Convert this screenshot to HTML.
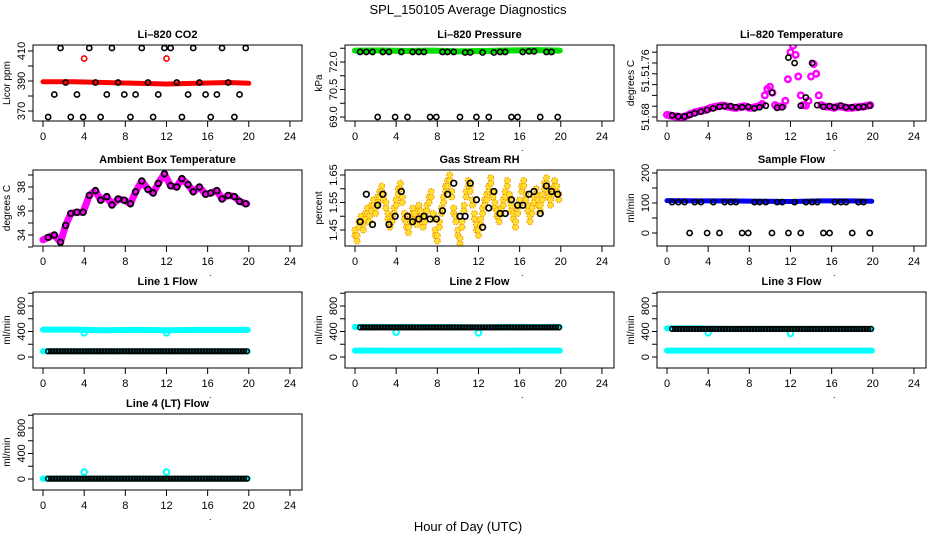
<!DOCTYPE html>
<html><head><meta charset="utf-8">
<style>
html,body{margin:0;padding:0;background:#fff;}
svg{display:block;font-family:"Liberation Sans",sans-serif;}
</style></head>
<body>
<svg id="chart" width="936" height="540" viewBox="0 0 936 540" xmlns="http://www.w3.org/2000/svg">
<text x="468" y="14" text-anchor="middle" font-size="13">SPL_150105  Average Diagnostics</text>
<text x="468" y="531" text-anchor="middle" font-size="13">Hour of Day (UTC)</text>
</svg>
<script>
// ---- data ----
const hours = [0.5,1.1,1.7,2.2,2.7,3.3,3.9,4.5,5.1,5.6,6.2,6.7,7.3,7.9,8.5,9.0,9.6,10.2,10.7,11.2,11.8,12.4,13.0,13.5,14.1,14.6,15.2,15.8,16.3,16.9,17.4,18.0,18.6,19.1,19.7];
const xTicks = [0,4,8,12,16,20,24];
const co2Band = [389.5,389.5,389,388.5,388,388.5,389,388.5];
const co2BandHours = [0,3,6,9,12,15,18,20];
const co2Black = [366,381,412,389,366,381,366,412,389,366,381,412,389,381,366,381,412,389,366,381,412,412,389,366,381,412,389,381,366,381,412,389,366,381,412];
const co2RedOutHours = [4,12];
const co2RedOut = [405,405];
const presBand = [72.62,72.63,72.6,72.62,72.58,72.6,72.63,72.65,72.62];
const presBandHours = [0,2.5,5,7.5,10,12.5,15,17.5,19.9];
const presBlack = [72.55,72.55,72.55,69.0,72.55,72.55,69.0,72.55,69.0,72.55,72.55,72.55,69.0,69.0,72.55,72.55,72.55,69.0,72.52,72.52,69.0,72.52,69.0,72.52,72.55,72.55,69.0,69.0,72.55,72.58,72.58,69.0,72.55,72.55,69.0];
const tempHours = Array.from({length:80},(_,i)=>i*0.25);
const tempVals = [51.664,51.663,51.662,51.661,51.661,51.660,51.660,51.661,
51.663,51.665,51.667,51.669,51.670,51.671,51.672,51.673,
51.675,51.677,51.678,51.679,51.680,51.681,51.681,51.680,
51.679,51.678,51.677,51.677,51.678,51.679,51.680,51.679,
51.677,51.677,51.678,51.679,51.681,51.684,51.700,51.712,
51.716,51.705,51.682,51.680,51.679,51.680,51.690,51.730,
51.780,51.792,51.775,51.735,51.700,51.682,51.681,51.690,
51.735,51.758,51.740,51.700,51.682,51.680,51.679,51.679,
51.678,51.677,51.679,51.680,51.679,51.678,51.677,51.677,
51.677,51.678,51.678,51.679,51.679,51.680,51.681,51.682];
const tempBlack = [51.663,51.661,51.661,51.664,51.667,51.670,51.673,51.676,51.679,51.680,51.680,51.678,51.678,51.679,51.676,51.678,51.681,51.705,51.677,51.678,51.770,51.760,51.681,51.696,51.760,51.682,51.679,51.680,51.678,51.681,51.678,51.678,51.678,51.679,51.681];
const ambBlack = [33.8,34.0,33.4,34.8,35.8,35.9,35.9,37.3,37.7,36.9,37.2,36.5,37.0,36.9,36.6,37.6,38.5,37.8,37.5,38.3,39.1,38.1,38.0,38.7,38.2,37.6,38.0,37.4,37.5,37.7,37.0,37.3,37.2,36.8,36.6];
const ambLine = [33.6,33.8,34.0,33.4,34.8,35.8,35.9,35.9,37.3,37.7,36.9,37.2,36.5,37.0,36.9,36.6,37.6,38.5,37.8,37.5,38.3,39.1,38.1,38.0,38.7,38.2,37.6,38.0,37.4,37.5,37.7,37.0,37.3,37.2,36.8,36.6];
const ambLineHours = [0,0.5,1.1,1.7,2.2,2.7,3.3,3.9,4.5,5.1,5.6,6.2,6.7,7.3,7.9,8.5,9.0,9.6,10.2,10.7,11.2,11.8,12.4,13.0,13.5,14.1,14.6,15.2,15.8,16.3,16.9,17.4,18.0,18.6,19.1,19.8];
const rhHours = Array.from({length:100},(_,i)=>i*0.2);
const rhVals = [1.44,1.42,1.47,1.49,1.46,1.50,1.52,1.49,1.53,1.55,
1.52,1.56,1.58,1.60,1.57,1.54,1.50,1.47,1.49,1.52,
1.55,1.59,1.61,1.56,1.50,1.47,1.45,1.49,1.52,1.50,
1.48,1.53,1.51,1.47,1.49,1.53,1.56,1.58,1.50,1.44,
1.42,1.47,1.52,1.56,1.60,1.62,1.64,1.58,1.52,1.49,
1.44,1.41,1.47,1.53,1.58,1.62,1.60,1.55,1.50,1.46,
1.44,1.48,1.52,1.55,1.57,1.60,1.63,1.58,1.54,1.51,
1.49,1.52,1.55,1.58,1.62,1.57,1.53,1.50,1.47,1.52,
1.55,1.60,1.62,1.57,1.53,1.49,1.52,1.56,1.59,1.55,
1.53,1.57,1.61,1.63,1.58,1.55,1.59,1.62,1.60,1.57];
const rhBlack = [1.48,1.58,1.47,1.54,1.58,1.47,1.50,1.59,1.50,1.48,1.49,1.50,1.49,1.49,1.52,1.58,1.62,1.50,1.50,1.62,1.56,1.46,1.53,1.59,1.51,1.51,1.56,1.54,1.54,1.58,1.59,1.51,1.61,1.59,1.58];
const flowBlack = [103,103,103,0,103,103,0,103,0,103,103,103,0,0,103,103,103,0,103,103,0,103,0,103,103,103,0,0,103,103,103,0,103,103,0];
const sampleBand = [108,107,107,106,105,107,107,106];
const bandHours8 = [0,3,6,9,12,15,18,19.9];
const line1Upper = [430,430,420,425,420,425,425,425];
const line1Lower = [90,90,90,90,90,90,90,90];
const line2Upper = [470,470,470,470,465,470,470,470];
const line2Lower = [100,100,100,100,100,100,100,100];
const line3Upper = [450,450,440,440,440,440,440,440];
const line3Lower = [100,100,100,100,100,100,100,100];
const line4Upper = [5,5,5,5,5,5,5,5];
const flowDips = [4,12];
const line1Dip = [380,380]; const line2Dip = [390,380]; const line3Dip = [380,370]; const line4Dip = [110,110];
const line1BlackLvl = 90, line2BlackLvl = 465, line3BlackLvl = 440, line4BlackLvl = 5;

// ---- drawing ----
const NS="http://www.w3.org/2000/svg";
const svg=document.getElementById('chart');
function mk(tag,attrs,parent){const e=document.createElementNS(NS,tag);for(const k in attrs)e.setAttribute(k,attrs[k]);(parent||svg).appendChild(e);return e;}
const rowTops=[45,170,292,414];
function panel(col,row,name,title,ylab,v0,p0,v1,p1,yt,ylabels){
  const x0=33+312*col, y0=rowTops[row], w=269, h=76;
  const g=mk('g',{});
  
  
  const X=t=>x0+10+t*10.29;
  const Y=v=>y0+p0+(v-v0)*(p1-p0)/(v1-v0);
  const t=mk('text',{x:x0+w/2,y:y0-7,'text-anchor':'middle','font-size':11,'font-weight':'bold'},g);t.textContent=title;
  
  
  const yl=mk('text',{transform:`translate(${x0-23},${y0+h/2}) rotate(-90)`,'text-anchor':'middle','font-size':10},g);yl.textContent=ylab;
  
  
  const plot=mk('g',{},g);
  
  
  const cp='clip'+name;
  const cl=mk('clipPath',{id:cp},g);mk('rect',{x:x0,y:y0,width:w,height:h},cl);
  plot.setAttribute('clip-path',`url(#${cp})`);
  mk('rect',{x:x0,y:y0,width:w,height:h,fill:'none',stroke:'#000','stroke-width':1},g);
  const ax=mk('g',{},g);
  
  
  mk('line',{x1:X(0),x2:X(24),y1:y0+h,y2:y0+h,stroke:'#000'},ax);
  xTicks.forEach(tv=>{mk('line',{x1:X(tv),x2:X(tv),y1:y0+h,y2:y0+h+6,stroke:'#000'},ax);
    const l=mk('text',{x:X(tv),y:y0+h+19,'text-anchor':'middle','font-size':11},ax);l.textContent=tv;});
  const dot=mk('text',{x:x0+176,y:y0+h+30,'font-size':9},ax);dot.textContent='.';
  const ay=mk('g',{},g);
  
  
  yt.forEach((tv,i)=>{const yy=Y(tv);if(yy<y0-1||yy>y0+h+1)return;
    mk('line',{x1:x0-5,x2:x0,y1:yy,y2:yy,stroke:'#000'},ay);
    if(ylabels[i]){const l=mk('text',{transform:`translate(${x0-8},${yy}) rotate(-90)`,'text-anchor':'middle','font-size':11},ay);l.textContent=ylabels[i];}});
  return {plot,X,Y};
}
function circles(P,xs,vs,color,name,r,sw,fill){const g=mk('g',{},P.plot);
  
  
  xs.forEach((x,i)=>{const c=mk('circle',{cx:P.X(x),cy:P.Y(vs[i]),r:r||2.6,fill:fill||'none',stroke:color,'stroke-width':sw||1.6},g);
    
    });}
function band(P,xs,vs,color,name,w){const p=mk('polyline',{points:xs.map((x,i)=>P.X(x)+','+P.Y(vs[i])).join(' '),fill:'none',stroke:color,'stroke-width':w,'stroke-linejoin':'round','stroke-linecap':'round'},P.plot);
  
  }
function denseBlack(P,lvl,name){const xs=[],vs=[];for(let i=0;i<70;i++){xs.push(0.5+i*0.28);vs.push(lvl);}circles(P,xs,vs,'#000',name,2.4,1.5);}

// CO2
let P=panel(0,0,'co2','Li\u2013820 CO2','Licor ppm',410,6,370,66,[360,370,380,390,400,410],['','370','','390','','410']);
band(P,co2BandHours,co2Band,'#ff0000','co2-red-band',5);
circles(P,co2RedOutHours,co2RedOut,'#ff0000','co2-red-outliers');
circles(P,hours,co2Black,'#000','co2-black-points');
// Pressure
P=panel(1,0,'pressure','Li\u2013820 Pressure','kPa',69,72,72,17,[69,69.75,70.5,71.25,72,72.75],['69.0','','70.5','','72.0','']);
band(P,presBandHours,presBand,'#00dd00','pressure-green-band',6);
circles(P,hours,presBlack,'#000','pressure-black-points');
// Li-820 temperature
P=panel(2,0,'li820-temp','Li\u2013820 Temperature','degrees C',51.66,72,51.78,7.2,[51.66,51.68,51.70,51.72,51.74,51.76,51.78],['51.68','','','51.','','51.76','']);
circles(P,tempHours,tempVals,'#ff00ff','temp-magenta-points',2.8,2.4);
circles(P,hours,tempBlack,'#000','temp-black-points');
// Ambient
P=panel(0,1,'ambient','Ambient Box Temperature','degrees C',34,65,38,17,[33,34,35,36,37,38,39],['','34','','36','','38','']);
band(P,ambLineHours,ambLine,'#ff00ff','ambient-magenta-line',7);
circles(P,hours,ambBlack,'#000','ambient-black-points',2.8,1.8);
// RH
P=panel(1,1,'rh','Gas Stream RH','percent',1.45,60,1.65,5,[1.45,1.50,1.55,1.60,1.65],['1.45','','1.55','','1.65']);
{const g=mk('g',{},P.plot);
 
 
 rhHours.forEach((x,i)=>{[-0.01,0.01].forEach(o=>{
   const c=mk('circle',{cx:P.X(x),cy:P.Y(rhVals[i]+o),r:3,fill:'#ffe030',stroke:'#f09000','stroke-width':1,'stroke-dasharray':'1.5 1.2'},g);
   
   });});}
circles(P,hours,rhBlack,'#000','rh-black-points',2.8,1.7);
// Sample flow
P=panel(2,1,'sample-flow','Sample Flow','ml/min',0,63,200,3,[0,50,100,150,200],['0','','100','','200']);
band(P,bandHours8,sampleBand,'#0000ee','sample-blue-band',5);
circles(P,hours,flowBlack,'#000','sample-black-points');
// Line flows
const flowT=[0,200,400,600,800,1000], flowL=['0','','400','','800',''];
const flows=[[0,2,'line1','Line 1 Flow',line1Upper,line1Lower,line1Dip,line1BlackLvl],
 [1,2,'line2','Line 2 Flow',line2Upper,line2Lower,line2Dip,line2BlackLvl],
 [2,2,'line3','Line 3 Flow',line3Upper,line3Lower,line3Dip,line3BlackLvl],
 [0,3,'line4','Line 4 (LT) Flow',line4Upper,line4Upper,line4Dip,line4BlackLvl]];
flows.forEach(f=>{const Q=panel(f[0],f[1],f[2],f[3],'ml/min',0,65,800,14,flowT,flowL);
  band(Q,bandHours8,f[4],'#00ffff',f[2]+'-cyan-upper',6);
  band(Q,bandHours8,f[5],'#00ffff',f[2]+'-cyan-lower',6);
  circles(Q,flowDips,f[6],'#00ffff',f[2]+'-cyan-dips',2.8,2);
  denseBlack(Q,f[7],f[2]+'-black-points');});
</script>
</body></html>
